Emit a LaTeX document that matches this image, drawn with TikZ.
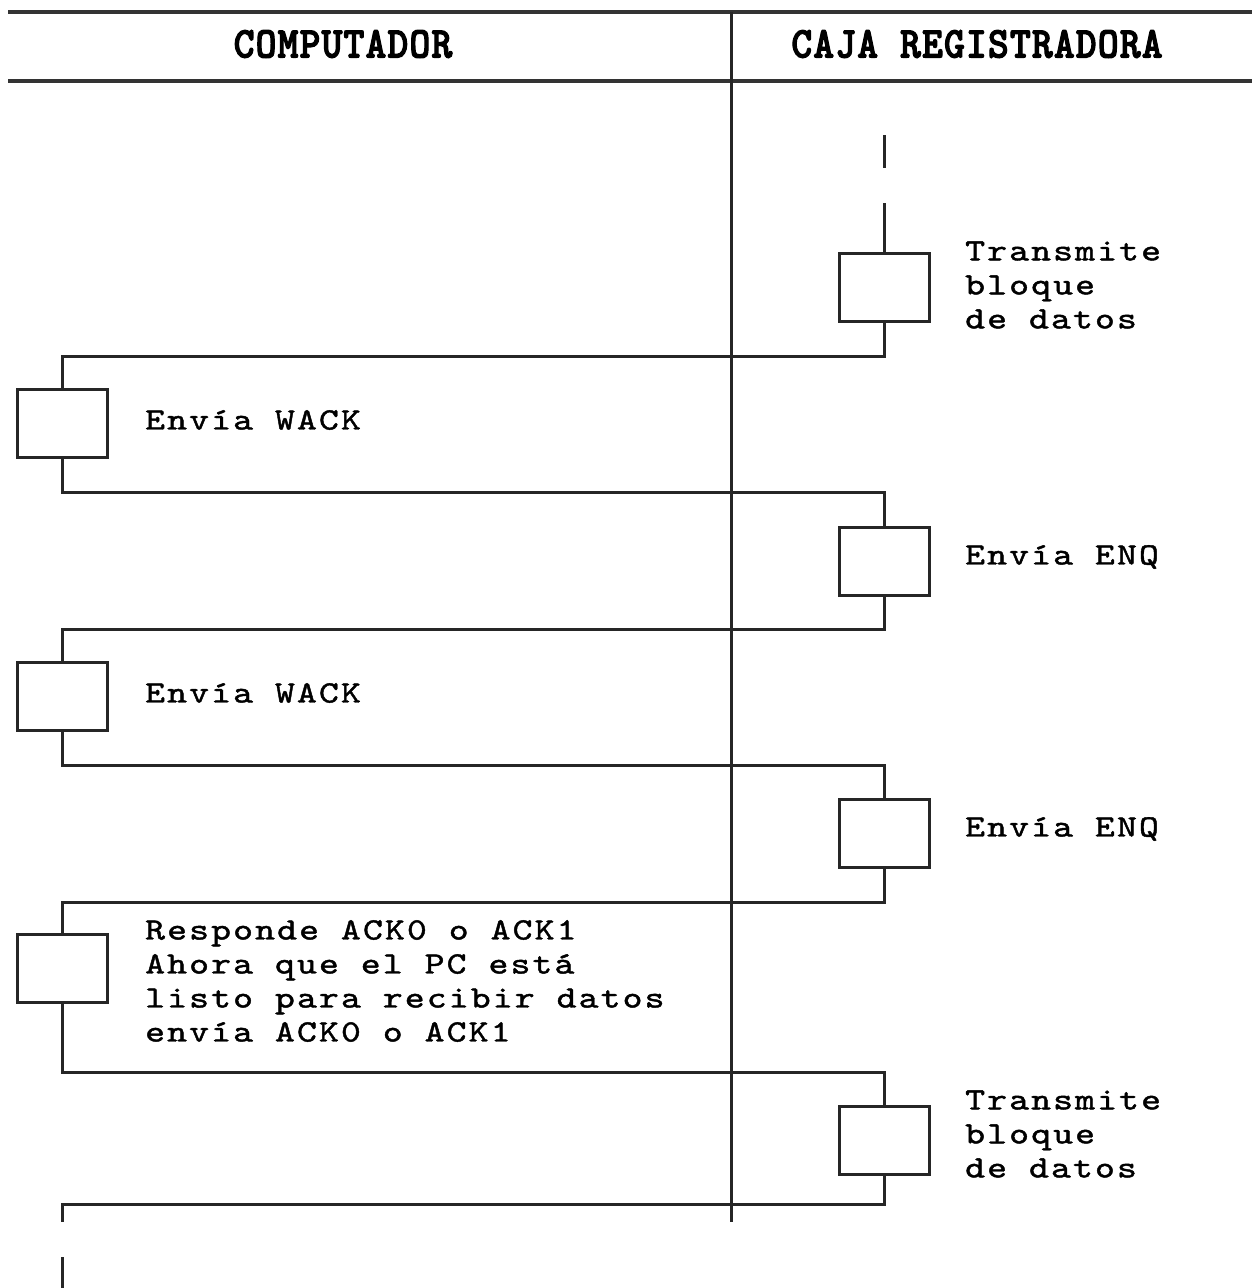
\documentclass[tikz,border=0pt]{standalone}
\usepackage{fontspec}
\newfontfamily\bodyfont{lmmono10-regular.otf}[FakeStretch=1.22,LetterSpace=6.9,FakeBold=1.4]
\newfontfamily\headfont{lmmonolt10-bold.otf}[FakeStretch=0.9,LetterSpace=2.7,FakeBold=2.5]
\begin{document}
\begin{tikzpicture}[x=1pt,y=-1pt,
  wire/.style={line width=3pt,draw=black!85},
  rule/.style={line width=3.8pt,draw=black!80},
  stepbox/.style={draw=black!85,line width=3pt,minimum width=90pt,minimum height=68pt,inner sep=0pt},
  note/.style={anchor=west,align=left,inner sep=0pt,font=\bodyfont\fontsize{31}{34}\selectfont},
  head/.style={inner sep=0pt,font=\headfont\fontsize{44}{36}\selectfont}]
\useasboundingbox (0,0) rectangle (1252,1288);

% header band
\draw[rule] (8,12) -- (1252,12);
\draw[rule] (8,81) -- (1252,81);
\node[head] (hpc) at (343,44) {COMPUTADOR};
\node[head] (hcr) at (977,44) {CAJA REGISTRADORA};

% column divider
\draw[wire] (731,12) -- (731,1222);

% activity boxes: right lane x=884, left lane x=62
\node[stepbox] (r1) at (884,287) {};
\node[stepbox] (l1) at (62,423) {};
\node[stepbox] (r2) at (884,561) {};
\node[stepbox] (l2) at (62,696) {};
\node[stepbox] (r3) at (884,833) {};
\node[stepbox] (l3) at (62,968) {};
\node[stepbox] (r4) at (884,1140) {};

% labels
\node[note] (t1) at (965,285) {Transmite\\bloque\\de datos};
\node[note] (t2) at (145,420) {Envía WACK};
\node[note] (t3) at (965,557) {Envía ENQ};
\node[note] (t4) at (145,693) {Envía WACK};
\node[note] (t5) at (965,829) {Envía ENQ};
\node[note] (t6) at (145,981) {Responde ACK0 o ACK1\\Ahora que el PC está\\listo para recibir datos\\envía ACK0 o ACK1};
\node[note] (t7) at (965,1134) {Transmite\\bloque\\de datos};

% incoming flow above the first box
\coordinate (s0) at (884,135);
\coordinate (s1) at (884,168);
\coordinate (s2) at (884,203);
\draw[wire] (s0) -- (s1);
\draw[wire] (s2) -- (r1.north);

% exchanges between the lanes
\draw[wire] (r1.south) -- ++(0,34) -| (l1.north);
\draw[wire] (l1.south) -- ++(0,34) -| (r2.north);
\draw[wire] (r2.south) -- ++(0,33) -| (l2.north);
\draw[wire] (l2.south) -- ++(0,34) -| (r3.north);
\draw[wire] (r3.south) -- ++(0,34) -| (l3.north);
\draw[wire] (l3.south) -- ++(0,69) -| (r4.north);

% final return, continuing below
\coordinate (e0) at (62,1204);
\coordinate (e1) at (62,1222);
\coordinate (e2) at (62,1257);
\coordinate (e3) at (62,1288);
\draw[wire] (r4.south) |- (e0) -- (e1);
\draw[wire] (e2) -- (e3);
\end{tikzpicture}
\end{document}
